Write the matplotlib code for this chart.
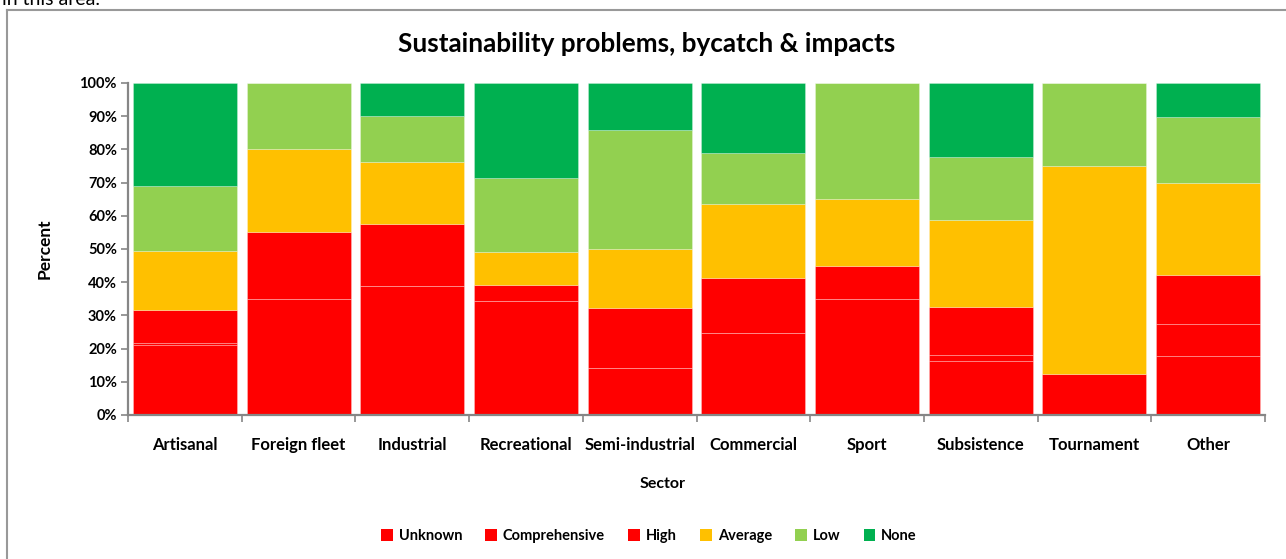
import numpy as np
import matplotlib
matplotlib.use("Agg")
import matplotlib.pyplot as plt
from matplotlib.lines import Line2D
from matplotlib.patches import Patch
from matplotlib.ticker import PercentFormatter

# sectors and share (%) of each sustainability rating
sectors = ["Artisanal", "Foreign fleet", "Industrial", "Recreational", "Semi-industrial",
           "Commercial", "Sport", "Subsistence", "Tournament", "Other"]
unknown = [21.0, 35.0, 39.0, 34.4, 14.3, 24.6, 35.0, 16.2, 0.0, 17.7]
comprehensive = [0.8, 0.0, 0.0, 0.0, 0.0, 0.0, 0.0, 1.8, 0.0, 9.6]
high = [9.7, 20.0, 18.6, 4.8, 17.8, 16.8, 10.0, 14.4, 12.5, 15.0]
average = [18.0, 25.0, 18.6, 9.9, 17.9, 22.2, 20.0, 26.2, 62.5, 27.5]
low = [19.5, 20.0, 13.9, 22.2, 35.7, 15.4, 35.0, 19.0, 25.0, 20.0]
none = [31.0, 0.0, 9.9, 28.7, 14.3, 21.0, 0.0, 22.4, 0.0, 10.2]

series = [("Unknown", unknown, "#FF0000"),
          ("Comprehensive", comprehensive, "#FF0000"),
          ("High", high, "#FF0000"),
          ("Average", average, "#FFC000"),
          ("Low", low, "#92D050"),
          ("None", none, "#00B050")]

plt.rcParams['font.family'] = ['Lato', 'DejaVu Sans']
plt.rcParams['font.weight'] = 'bold'
gray = "#868686"

W, H = 1286, 559
fig = plt.figure(figsize=(W / 100, H / 100), dpi=100)
ax = fig.add_axes([128 / W, 1 - 415 / H, (1265 - 128) / W, (415 - 83) / H])

x = np.arange(len(sectors))
bottom = np.zeros(len(sectors))
handles = []
for name, vals, col in series:
    vals = np.array(vals)
    ax.bar(x, vals, width=0.915, bottom=bottom, color=col,
           edgecolor=(1, 1, 1, 0.3), linewidth=0.6)
    bottom += vals
    handles.append(Patch(facecolor=col, edgecolor='none', label=name))

ax.set_xlim(-0.5, len(sectors) - 0.5)
ax.set_ylim(0, 100)
ax.set_yticks(np.arange(0, 101, 10))
ax.yaxis.set_major_formatter(PercentFormatter(decimals=0))
ax.set_xticks(x)
ax.set_xticklabels(sectors)
ax.set_xticks(np.arange(-0.5, len(sectors)), minor=True)
ax.tick_params(axis='x', which='major', length=0, pad=16, labelsize=12)
ax.tick_params(axis='x', which='minor', length=5, color=gray, width=1.2, direction='out')
ax.tick_params(axis='y', length=5, color=gray, width=1.2, labelsize=10.5, pad=3)

for s in ['top', 'right']:
    ax.spines[s].set_visible(False)
for s in ['left', 'bottom']:
    ax.spines[s].set_color(gray)
    ax.spines[s].set_linewidth(1.6)

fig.text(45 / W, 1 - 249 / H, "Percent", rotation=90, ha='center', va='center',
         fontsize=12.5, fontweight='bold')
fig.text(663 / W, 1 - 484 / H, "Sector", ha='center', va='center',
         fontsize=11.5, fontweight='bold')
fig.text(647 / W, 1 - 44 / H, "Sustainability problems, bycatch & impacts",
         ha='center', va='center', fontsize=18.8, fontweight='bold')

fig.legend(handles=handles, ncol=6, loc='center', frameon=False,
           bbox_to_anchor=(649 / W, 1 - 536 / H), fontsize=10.5,
           handlelength=0.8, handleheight=0.8, handletextpad=0.4,
           columnspacing=1.6)

# outer chart frame (cropped in the source at right/bottom)
fig.add_artist(Line2D([7 / W, 7 / W], [0, 1 - 10 / H], color="#999999", lw=1.5,
                      transform=fig.transFigure))
fig.add_artist(Line2D([7 / W, 1], [1 - 10 / H, 1 - 10 / H], color="#999999", lw=1.5,
                      transform=fig.transFigure))
# tail of the text above the chart, cut by the crop
fig.text(2 / W, 1 - 5 / H, "in this area.", ha='left', va='baseline', fontsize=14,
         fontweight='normal')

fig.savefig("out.png", dpi=100)
